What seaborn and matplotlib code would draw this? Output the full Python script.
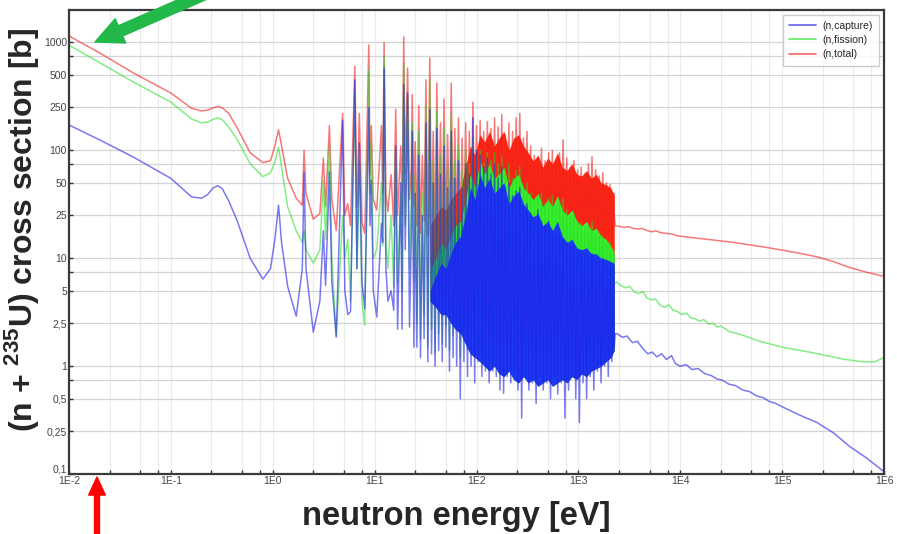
import matplotlib
matplotlib.use("Agg")
import matplotlib.pyplot as plt
import matplotlib.ticker as mticker
from matplotlib.lines import Line2D
import seaborn as sns
import pandas as pd

sns.set_style("white")
plt.rcParams['font.family'] = ['Liberation Sans', 'DejaVu Sans']
plt.rcParams['mathtext.fontset'] = 'custom'
plt.rcParams['mathtext.bf'] = 'Liberation Sans:bold'

# --- thermal + first resolved resonances (eV, barn) ---
E_low = [0.01, 0.02, 0.0425, 0.1, 0.16, 0.2, 0.23, 0.26, 0.29, 0.32,
         0.37, 0.45, 0.6, 0.8, 0.95, 1.05, 1.14, 1.22, 1.4, 1.7,
         1.95, 2.03, 2.12, 2.5, 2.9, 3.14, 3.3, 3.6, 3.8, 4.2,
         4.85, 5.1, 5.45, 5.8, 6.39, 6.7, 7.08, 7.5, 8.0, 8.77,
         9.0, 9.28, 9.7, 10.5, 11.66, 12.0, 12.39, 12.9, 13.5, 14.5,
         15.4, 16.1, 16.8, 18.05, 18.6, 19.3, 20.0, 21.07, 22.0, 22.9,
         23.4, 24.3]
tot_low = [1150, 800, 524, 340, 245, 232, 236, 248, 255, 248,
           220, 160, 95, 77, 80, 110, 155, 110, 55, 36,
           31, 100, 40, 23, 26, 85, 30, 170, 35, 18,
           220, 25, 32, 20, 600, 30, 220, 22, 17, 950,
           60, 170, 35, 28, 170, 40, 1000, 40, 27, 60,
           20, 240, 25, 110, 25, 1130, 60, 580, 35, 70,
           330, 30]
fis_low = [945, 650, 432, 280, 195, 180, 183, 194, 200, 192,
           165, 125, 75, 57, 62, 78, 107, 70, 30, 18,
           14, 18, 12, 9, 12, 53, 15, 110, 10, 1.9,
           25, 10, 15, 4, 350, 8, 80, 4, 2.4, 550,
           40, 120, 10, 12, 50, 13, 750, 14, 8, 25,
           5.4, 100, 6, 40, 5, 650, 20, 300, 8, 30,
           180, 6]
cap_low = [172, 125, 87, 55, 37, 36, 39, 45, 47, 44,
           34, 22, 10, 6.4, 8, 15, 31, 14, 5.5, 2.9,
           8, 62, 8, 2.07, 4, 18, 5.6, 63, 6, 1.86,
           190, 5, 3.0, 3.2, 450, 8, 117, 6, 3.4, 250,
           20, 53, 5, 2.85, 21, 14, 580, 8, 4, 5,
           3.3, 110, 2.2, 50, 2.2, 410, 12, 340, 2.3, 15,
           150, 1.5]

# --- dense resonance region: peaks and the dips after them ---
E_peak = [25.0, 27.1, 29.4, 31.9, 34.8, 37.6, 40.8, 44.3, 48.0, 52.1,
          56.5, 61.3, 66.5, 72.2, 78.3, 85.0, 92.2, 100, 108.5, 117.7,
          127.7, 138.6, 150.4, 163, 177, 192, 208, 226, 245, 266,
          289, 313, 340, 369, 400, 434, 471, 511, 555, 602,
          653, 708, 769, 834, 905, 982, 1065, 1156, 1254, 1361,
          1476, 1602, 1738, 1886, 2046, 2220]
E_dip = [26, 28.2, 30.6, 33.3, 36.2, 39.2, 42.5, 46.1, 50, 54.3,
         58.9, 63.9, 69.3, 75.2, 81.6, 88.5, 96, 104.2, 113, 122.6,
         133, 144.4, 156.6, 170, 184.5, 200, 217, 235.5, 255.5, 277.5,
         301, 326.5, 354.5, 384.5, 417, 452.5, 491, 533, 578, 627,
         680, 738, 801, 869, 943, 1023, 1110, 1205, 1307, 1418,
         1539, 1670, 1812, 1966, 2133, 2250]
tot_peak = [120, 260, 90, 450, 720, 150, 420, 180, 300, 140,
            420, 160, 200, 130, 180, 150, 280, 170, 190, 150,
            185, 160, 200, 165, 215, 140, 180, 150, 200, 220,
            130, 150, 110, 90, 87, 105, 80, 95, 100, 80,
            95, 125, 85, 70, 80, 66, 70, 60, 75, 87,
            66, 58, 62, 50, 48, 40]
tot_dip = [20, 17, 22, 16, 19, 15, 18, 16, 20, 15,
           17, 19, 16, 18, 15, 17, 19, 16, 18, 15,
           17, 16, 18, 15, 17, 16, 15, 17, 16, 15,
           17, 16, 15, 16, 15, 17, 15, 16, 15, 16,
           15, 16, 15, 16, 15, 16, 15, 16, 15, 16,
           15, 16, 15, 16, 15, 25]
fis_peak = [60, 150, 40, 260, 450, 80, 230, 90, 160, 70,
            230, 80, 110, 65, 100, 75, 130, 90, 100, 75,
            95, 80, 95, 75, 90, 60, 75, 55, 65, 70,
            45, 50, 40, 35, 38, 40, 32, 36, 38, 30,
            33, 36, 28, 25, 26, 22, 21, 19, 20, 22,
            17, 16, 16, 14, 14, 12]
fis_dip = [2.5, 1.8, 3.0, 1.5, 2.2, 1.3, 2.0, 1.6, 2.4, 1.4,
           1.9, 2.3, 1.2, 2.0, 1.4, 1.8, 2.2, 1.6, 2.0, 1.5,
           1.9, 1.7, 2.1, 1.6, 2.0, 1.8, 2.2, 1.9, 2.4, 2.1,
           2.6, 2.3, 2.8, 2.5, 3.0, 2.7, 3.2, 3.0, 3.5, 3.2,
           3.8, 3.5, 4.0, 3.8, 4.3, 4.0, 4.5, 4.3, 4.8, 4.5,
           5.0, 4.8, 5.3, 5.0, 5.5, 6.0]
cap_peak = [40, 90, 25, 180, 240, 50, 160, 60, 110, 45,
            150, 55, 80, 45, 75, 60, 200, 100, 90, 70,
            85, 60, 75, 55, 70, 45, 50, 38, 42, 45,
            30, 32, 26, 24, 28, 22, 20, 22, 18, 16,
            17, 15, 14, 13, 13, 12, 11.5, 11, 10.5, 11,
            10, 9.5, 10, 9, 9, 8.5]
cap_dip = [1.5, 1.2, 1.8, 1.1, 1.3, 1.0, 1.4, 1.1, 1.5, 0.9,
           1.2, 1.0, 0.5, 1.1, 0.8, 1.0, 0.7, 1.1, 0.8, 0.9,
           0.7, 0.9, 0.8, 0.6, 0.56, 0.8, 0.7, 0.9, 0.6, 0.33,
           0.8, 0.6, 0.7, 0.45, 0.8, 0.6, 0.7, 0.5, 0.8, 0.55,
           0.7, 0.33, 0.6, 0.8, 0.5, 0.30, 0.7, 0.5, 0.8, 0.6,
           0.9, 0.7, 1.0, 0.8, 1.1, 1.5]

# filled look of the unresolvable resonance forest (upper edges per reaction,
# common lower edge)
E_band = [35, 40, 45, 50, 56, 62, 70, 78, 87, 97,
          108, 120, 134, 150, 167, 186, 208, 232, 259, 289,
          322, 360, 401, 448, 500, 558, 622, 694, 775, 865,
          965, 1077, 1202, 1341, 1497, 1670, 1864, 2080, 2250]
tot_band_hi = [20, 25, 30, 28, 35, 40, 45, 70, 110, 90,
               140, 120, 150, 110, 130, 150, 100, 130, 140, 110,
               95, 80, 90, 70, 85, 75, 95, 70, 65, 75,
               60, 58, 65, 55, 60, 50, 48, 45, 38]
fis_band_hi = [8, 10, 14, 12, 16, 20, 22, 35, 60, 45,
               80, 60, 75, 55, 60, 70, 45, 55, 60, 45,
               40, 35, 40, 30, 35, 30, 38, 28, 25, 28,
               22, 20, 22, 18, 19, 16, 15, 13, 11]
cap_band_hi = [5, 7, 9, 8, 11, 14, 16, 25, 45, 35,
               60, 45, 55, 40, 45, 50, 32, 38, 42, 32,
               28, 24, 26, 20, 22, 18, 22, 16, 14, 15,
               12.5, 12, 12.5, 11, 11, 10, 9.8, 9.3, 9]
band_lo = [4, 3.5, 3, 3, 2.5, 2.2, 2, 1.6, 1.3, 1.2,
           1.1, 1.0, 0.9, 1.0, 0.85, 0.8, 0.9, 0.75, 0.7, 0.8,
           0.7, 0.75, 0.65, 0.7, 0.75, 0.65, 0.7, 0.75, 0.7, 0.8,
           0.75, 0.85, 0.8, 0.9, 0.95, 1.0, 1.1, 1.2, 1.4]

# --- unresolved / fast region ---
E_tot_hi = [2300, 2500, 2800, 3100, 3400, 3800, 4200, 4700, 5200, 5800,
            6500, 7300, 8200, 9200, 10000, 15000, 22000, 32000, 48000, 70000,
            100000, 150000, 220000, 320000, 460000, 680000, 1000000]
tot_hi = [20, 19.8, 19.3, 19.6, 19.0, 18.7, 18.9, 18.1, 17.6, 17.9,
          17.2, 17.0, 16.8, 16.2, 16.0, 15.3, 14.7, 14.1, 13.3, 12.6,
          11.9, 11.1, 10.3, 9.3, 8.2, 7.4, 6.8]
E_fis_hi = [2300, 2400, 2600, 2900, 3200, 3500, 3900, 4300, 4700, 5200,
            5700, 6300, 7000, 7700, 8500, 9400, 10400, 11500, 12700, 14000,
            15500, 17000, 19000, 21000, 23000, 25000, 28000, 30000, 40000, 60000,
            100000, 200000, 400000, 600000, 800000, 1000000]
fis_hi = [5.9, 6.0, 5.6, 5.3, 5.5, 4.9, 4.7, 4.9, 4.3, 4.1,
          4.2, 3.7, 3.5, 3.7, 3.3, 3.2, 3.0, 3.1, 2.8, 2.75,
          2.6, 2.7, 2.45, 2.5, 2.3, 2.35, 2.2, 2.1, 1.95, 1.7,
          1.5, 1.33, 1.16, 1.1, 1.09, 1.2]
E_cap_hi = [2300, 2400, 2700, 3000, 3400, 3800, 4300, 4800, 5300, 5900,
            6600, 7300, 8200, 9000, 10000, 11500, 13000, 15000, 17500, 20000,
            23000, 26000, 30000, 35000, 41000, 48000, 56000, 65000, 75000, 87000,
            100000, 150000, 220000, 320000, 460000, 680000, 1000000]
cap_hi = [2.0, 2.0, 1.85, 1.9, 1.65, 1.7, 1.45, 1.3, 1.35, 1.22,
          1.3, 1.15, 1.25, 1.05, 1.0, 1.03, 0.93, 0.95, 0.85, 0.82,
          0.76, 0.74, 0.68, 0.66, 0.6, 0.58, 0.53, 0.51, 0.47, 0.45,
          0.42, 0.35, 0.30, 0.24, 0.18, 0.14, 0.105]

x_ticks = [1e-2, 1e-1, 1e0, 1e1, 1e2, 1e3, 1e4, 1e5, 1e6]
x_labels = ['1E-2', '1E-1', '1E0', '1E1', '1E2', '1E3', '1E4', '1E5', '1E6']
y_ticks = [0.1, 0.25, 0.5, 1, 2.5, 5, 10, 25, 50, 100, 250, 500, 1000]
y_labels = ['0,1', '0,25', '0,5', '1', '2,5', '5', '10', '25', '50', '100', '250', '500', '1000']


def zigzag(a, b):
    out = []
    for p, q in zip(a, b):
        out += [p, q]
    return out


def series(e_hi, s_hi, low, peak, dip):
    e = E_low + zigzag(E_peak, E_dip) + e_hi
    s = low + zigzag(peak, dip) + s_hi
    return pd.DataFrame({'E': e, 'sigma': s})


df_tot = series(E_tot_hi, tot_hi, tot_low, tot_peak, tot_dip)
df_fis = series(E_fis_hi, fis_hi, fis_low, fis_peak, fis_dip)
df_cap = series(E_cap_hi, cap_hi, cap_low, cap_peak, cap_dip)

c_tot, c_fis, c_cap = '#ee2020', '#22dd22', '#2020e6'
b_tot, b_fis, b_cap = '#ff2810', '#3cee30', '#1a3af2'

fig = plt.figure(figsize=(8.97, 5.34), dpi=100)
ax = fig.add_axes([69 / 897, 60 / 534, 815 / 897, 464 / 534])
ax.set_xscale('log')
ax.set_yscale('log')

ax.fill_between(E_band, band_lo, tot_band_hi, color=b_tot, lw=0, zorder=2.0)
sns.lineplot(data=df_tot, x='E', y='sigma', ax=ax, color=c_tot, lw=1.1, alpha=0.6,
             sort=False, estimator=None, zorder=2.1)
ax.fill_between(E_band, band_lo, fis_band_hi, color=b_fis, lw=0, zorder=2.2)
sns.lineplot(data=df_fis, x='E', y='sigma', ax=ax, color=c_fis, lw=1.1, alpha=0.55,
             sort=False, estimator=None, zorder=2.3)
ax.fill_between(E_band, band_lo, cap_band_hi, color=b_cap, lw=0, zorder=2.4)
sns.lineplot(data=df_cap, x='E', y='sigma', ax=ax, color=c_cap, lw=1.1, alpha=0.6,
             sort=False, estimator=None, zorder=2.5)

ax.set_xlim(1e-2, 1e6)
ax.set_ylim(0.1, 2000)
ax.xaxis.set_major_locator(mticker.FixedLocator(x_ticks))
ax.xaxis.set_major_formatter(mticker.FixedFormatter(x_labels))
ax.xaxis.set_minor_locator(mticker.FixedLocator(
    [k * 10.0 ** d for d in range(-2, 6) for k in (2.5, 5, 7.5)]))
ax.xaxis.set_minor_formatter(mticker.NullFormatter())
ax.yaxis.set_major_locator(mticker.FixedLocator(y_ticks))
ax.yaxis.set_major_formatter(mticker.FixedFormatter(y_labels))
ax.yaxis.set_minor_locator(mticker.FixedLocator([0.75, 7.5, 75, 750]))
ax.yaxis.set_minor_formatter(mticker.NullFormatter())

ax.grid(which='both', axis='x', color='#ebebeb', lw=0.8, zorder=0)
ax.grid(which='both', axis='y', color='#d4d4d4', lw=0.9, zorder=0)
ax.set_axisbelow(True)
ax.tick_params(which='both', labelsize=7.5, labelcolor='#444444', color='#333333',
               direction='in', length=3, width=1, pad=1.5,
               bottom=True, left=True, top=False, right=False)
for sp in ax.spines.values():
    sp.set_color('#3a3a3a')
    sp.set_linewidth(1.6)
ax.set_xlabel('')
ax.set_ylabel('')
# lift the bottom y label a little so it clears the first x label
ax.yaxis.get_major_ticks()[0].label1.set_verticalalignment('bottom')

handles = [Line2D([], [], color=c_cap, alpha=0.7, lw=1.2),
           Line2D([], [], color=c_fis, alpha=0.7, lw=1.2),
           Line2D([], [], color=c_tot, alpha=0.7, lw=1.2)]
leg = ax.legend(handles, ['(n,capture)', '(n,fission)', '(n,total)'],
                loc='upper right', fontsize=7.5, fancybox=False, frameon=True,
                edgecolor='#c0c0c0', handlelength=2.6, labelspacing=0.4,
                borderaxespad=0.45, borderpad=0.6, handletextpad=0.6)
leg.get_frame().set_linewidth(1.0)

lab_font = ['Liberation Sans Narrow', 'Liberation Sans']
fig.text(22 / 897, 1 - 230 / 534, r'(n + $^{\mathbf{235}}$U) cross section [b]',
         rotation=90, ha='center', va='center', fontsize=23, fontweight='bold',
         family=lab_font)
fig.text(456 / 897, 1 - 516 / 534, 'neutron energy [eV]', ha='center', va='center',
         fontsize=23.5, fontweight='bold', family=lab_font)

# pointer arrows outside the frame
ax.annotate('', xy=(95, 534 - 42), xytext=(205, 540), xycoords='figure pixels',
            textcoords='figure pixels', annotation_clip=False,
            arrowprops=dict(arrowstyle='simple,head_length=1.0,head_width=0.95,tail_width=0.4',
                            color='#22b84a', mutation_scale=20, shrinkA=0, shrinkB=0))
ax.annotate('', xy=(97, 534 - 477), xytext=(97, -2), xycoords='figure pixels',
            textcoords='figure pixels', annotation_clip=False,
            arrowprops=dict(arrowstyle='simple,head_length=0.65,head_width=0.6,tail_width=0.18',
                            color='#ff0000', mutation_scale=20, shrinkA=0, shrinkB=0))

fig.savefig('out.png', dpi=100)
